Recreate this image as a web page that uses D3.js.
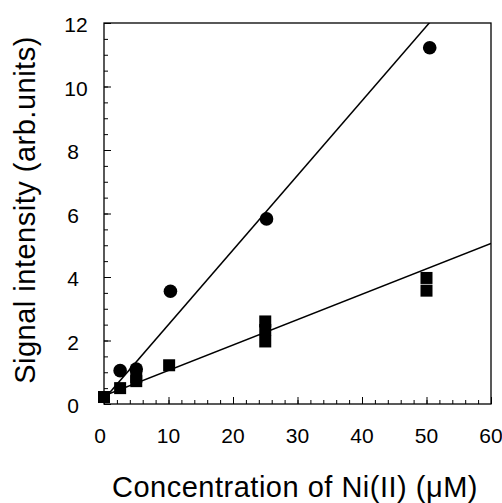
<!DOCTYPE html>
<html>
<head>
<meta charset="utf-8">
<script src="https://cdn.jsdelivr.net/npm/d3@7"></script>
<style>
  body { margin: 0; background: #fff; }
  text { font-family: "Liberation Sans", Arial, sans-serif; fill: #000; }
</style>
</head>
<body>
<svg width="502" height="503"></svg>
<script>
// circles (upper series)
const circleX = [2.5, 5, 10.3, 25.2, 50.5];
const circleY = [1.05, 1.1, 3.55, 5.83, 11.22];
// squares (lower series)
const squareX = [0, 2.5, 5, 5, 10.1, 25, 25, 25, 50, 50];
const squareY = [0.22, 0.5, 0.72, 0.85, 1.22, 1.97, 2.33, 2.6, 3.57, 3.97];
// fitted lines: [intercept, slope]
const fitCircle = [0.15, 0.235];
const fitSquare = [0.26, 0.08];
const xTicks = [0, 10, 20, 30, 40, 50, 60];
const yTicks = [0, 2, 4, 6, 8, 10, 12];

function main() {
  const svg = d3.select("svg");
  const x = d3.scaleLinear().domain([0, 60]).range([104, 491]);
  const y = d3.scaleLinear().domain([0, 12]).range([404, 23]);

  svg.append("defs").append("clipPath").attr("id", "plot")
    .append("rect")
    .attr("x", x(0)).attr("y", y(12))
    .attr("width", x(60) - x(0)).attr("height", y(0) - y(12));

  // frame
  svg.append("rect")
    .attr("x", x(0)).attr("y", y(12))
    .attr("width", x(60) - x(0)).attr("height", y(0) - y(12))
    .style("fill", "none")
    .style("stroke", "#000")
    .style("stroke-width", 1.3);

  // minor + major ticks, inward
  svg.append("g").attr("transform", `translate(0,${y(0)})`)
    .call(d3.axisBottom(x).tickValues(d3.range(0, 61, 2)).tickSize(-4).tickFormat(""))
    .call(g => g.select(".domain").remove());
  svg.append("g").attr("transform", `translate(0,${y(0)})`)
    .call(d3.axisBottom(x).tickValues(xTicks).tickSize(-7).tickFormat(""))
    .call(g => g.select(".domain").remove());

  svg.append("g").attr("transform", `translate(${x(0)},0)`)
    .call(d3.axisLeft(y).tickValues(d3.range(0, 12.01, 0.5)).tickSize(-4).tickFormat(""))
    .call(g => g.select(".domain").remove());
  svg.append("g").attr("transform", `translate(${x(0)},0)`)
    .call(d3.axisLeft(y).tickValues(yTicks).tickSize(-7).tickFormat(""))
    .call(g => g.select(".domain").remove());

  svg.selectAll(".tick line").style("stroke", "#000").style("stroke-width", 1);

  // tick labels
  svg.append("g").selectAll("text")
    .data(xTicks)
    .join("text")
    .attr("x", d => d === 0 ? x(d) - 4 : x(d))
    .attr("y", 443)
    .attr("text-anchor", "middle")
    .style("font-size", "21px")
    .text(d => d);

  svg.append("g").selectAll("text")
    .data(yTicks)
    .join("text")
    .attr("x", d => d >= 10 ? 76 : 73)
    .attr("y", d => y(d) + 9)
    .attr("text-anchor", "middle")
    .style("font-size", "21px")
    .text(d => d);

  // axis titles
  svg.append("text")
    .attr("x", 295)
    .attr("y", 497)
    .attr("text-anchor", "middle")
    .style("font-size", "29px")
    .style("letter-spacing", "0.5px")
    .text("Concentration of Ni(II) (\u03bcM)");

  svg.append("text")
    .attr("transform", `translate(35,210) rotate(-90)`)
    .attr("text-anchor", "middle")
    .style("font-size", "29px")
    .style("letter-spacing", "0.5px")
    .text("Signal intensity (arb.units)");

  // fit lines
  const plot = svg.append("g").attr("clip-path", "url(#plot)");
  [fitCircle, fitSquare].forEach(f => {
    plot.append("line")
      .attr("x1", x(0)).attr("y1", y(f[0]))
      .attr("x2", x(60)).attr("y2", y(f[0] + f[1] * 60))
      .style("stroke", "#000")
      .style("stroke-width", 1.5);
  });

  // markers
  svg.append("g").selectAll("circle")
    .data(circleX.map((d, i) => [d, circleY[i]]))
    .join("circle")
    .attr("cx", d => x(d[0]))
    .attr("cy", d => y(d[1]))
    .attr("r", 6.8)
    .style("fill", "#000");

  const s = 12;
  svg.append("g").selectAll("rect")
    .data(squareX.map((d, i) => [d, squareY[i]]))
    .join("rect")
    .attr("x", d => x(d[0]) - s / 2)
    .attr("y", d => y(d[1]) - s / 2)
    .attr("width", s)
    .attr("height", s)
    .style("fill", "#000");
}
main();
</script>
</body>
</html>
